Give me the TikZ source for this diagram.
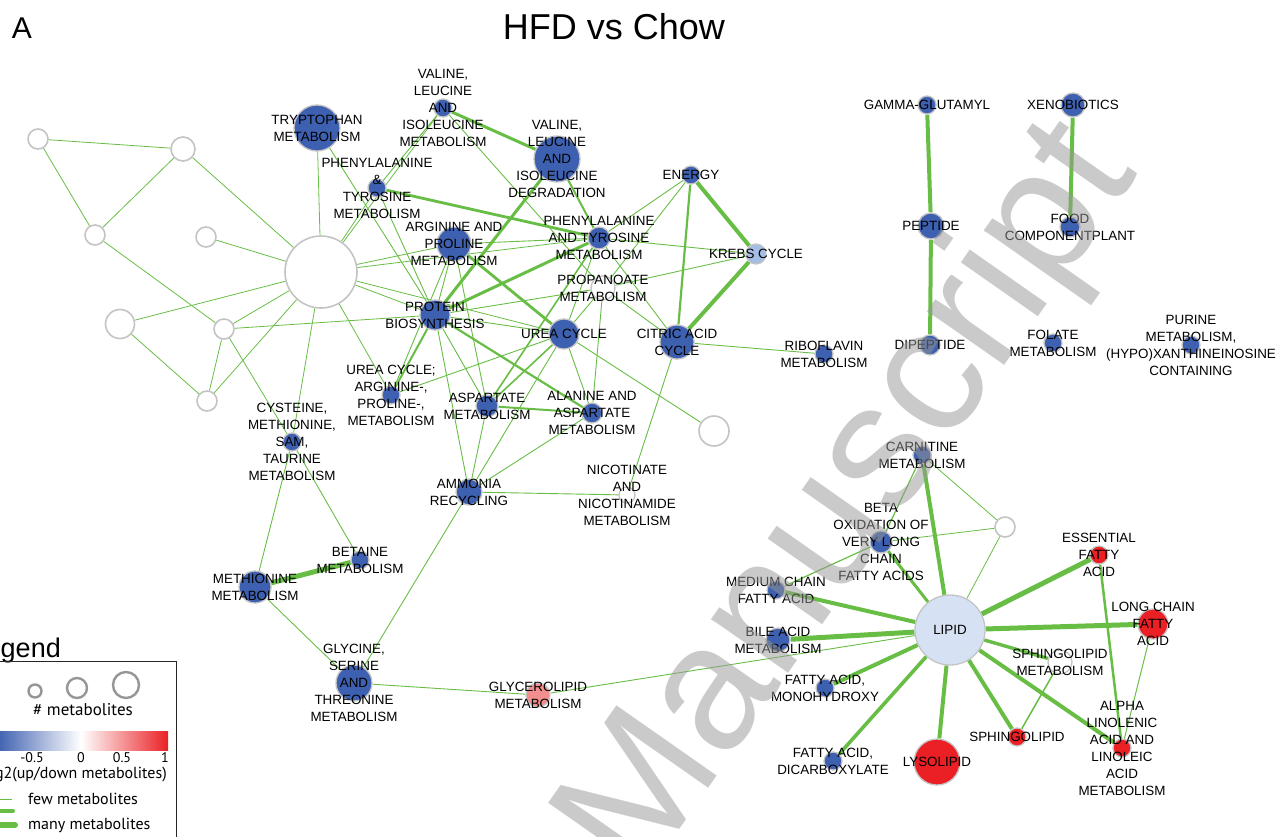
\documentclass[tikz,border=0pt]{standalone}
\usepackage{fontspec}
\setmainfont{Liberation Sans}
\newfontfamily\legfont{PT Sans}
\definecolor{nblue}{RGB}{62,96,176}
\definecolor{nred}{RGB}{234,32,36}
\definecolor{npink}{RGB}{242,142,142}
\definecolor{nlight}{RGB}{214,226,243}
\definecolor{nkrebs}{RGB}{164,189,228}
\definecolor{ngray}{RGB}{196,196,196}
\definecolor{egreen}{RGB}{104,189,69}
\definecolor{wmgray}{RGB}{150,150,150}
\definecolor{leggray}{RGB}{150,150,150}
\pgfdeclarelayer{edges}
\pgfdeclarelayer{labels}
\pgfdeclarelayer{wmark}
\pgfsetlayers{edges,main,labels,wmark}
\newcommand\gnode[4]{\node[gnd=#4] (#1) at (#2,#3) {};}
\newcommand\mnode[6]{\node[nd=#4,fill=#5] (#1) at (#2,#3) {};%
\begin{pgfonlayer}{labels}\node[lbl] (#1-t) at (#2,#3) {#6};\end{pgfonlayer}}
\begin{document}
\begin{tikzpicture}[x=1pt,y=-1pt,
  nd/.style={circle,inner sep=0pt,draw=ngray,line width=1.3pt,minimum size=#1},
  gnd/.style={circle,inner sep=0pt,draw=ngray,line width=1.6pt,fill=white,minimum size=#1},
  lbl/.style={font=\fontsize{13.4}{17}\selectfont,align=center,inner sep=0pt,text=black},
  lk/.style={draw=egreen,line width=#1},
  legtxt/.style={font=\legfont\fontsize{16}{18}\selectfont,inner sep=0pt}]
\useasboundingbox (0,0) rectangle (1277,836);

% title
\node[font=\fontsize{36}{40}\selectfont,inner sep=0pt] (title) at (614,27) {HFD vs Chow};
\node[font=\fontsize{30}{32}\selectfont,inner sep=0pt] (panel) at (22,28) {A};

% gray empty nodes
\gnode{g1}{38}{139}{20}
\gnode{g2}{183}{149}{24}
\gnode{g3}{95}{235}{20}
\gnode{g4}{206}{237}{20}
\gnode{g5}{321}{272}{72}
\gnode{g6}{120}{324}{29}
\gnode{g7}{224}{329}{20}
\gnode{g8}{207}{401}{20}
\gnode{g9}{714}{431}{30}
\gnode{g10}{1005}{527}{20}

% pathway nodes
\mnode{trp}{317}{128}{46}{nblue}{TRYPTOPHAN\\METABOLISM}
\mnode{valm}{443}{108}{18}{nblue}{VALINE,\\LEUCINE\\AND\\ISOLEUCINE\\METABOLISM}
\mnode{vald}{557}{159}{46}{nblue}{VALINE,\\LEUCINE\\AND\\ISOLEUCINE\\DEGRADATION}
\mnode{ptm}{377}{188}{18}{nblue}{PHENYLALANINE\\\&\\TYROSINE\\METABOLISM}
\mnode{argpro}{454}{244}{34}{nblue}{ARGININE AND\\PROLINE\\METABOLISM}
\mnode{pat}{599}{238}{22}{nblue}{PHENYLALANINE\\AND TYROSINE\\METABOLISM}
\mnode{energy}{691}{175}{18}{nblue}{ENERGY}
\mnode{krebs}{756}{254}{20}{nkrebs}{KREBS CYCLE}
\mnode{prop}{603}{288}{24}{white}{PROPANOATE\\METABOLISM}
\mnode{prot}{435}{315}{30}{nblue}{PROTEIN\\BIOSYNTHESIS}
\mnode{urea}{564}{334}{30}{nblue}{UREA CYCLE}
\mnode{citric}{677}{342}{34}{nblue}{CITRIC ACID\\CYCLE}
\mnode{ribo}{824}{354}{18}{nblue}{RIBOFLAVIN\\METABOLISM}
\mnode{ureaarg}{391}{395}{18}{nblue}{UREA CYCLE;\\ARGININE-,\\PROLINE-,\\METABOLISM}
\mnode{asp}{487}{406}{22}{nblue}{ASPARTATE\\METABOLISM}
\mnode{ala}{592}{413}{20}{nblue}{ALANINE AND\\ASPARTATE\\METABOLISM}
\mnode{sam}{292}{442}{18}{nblue}{CYSTEINE,\\METHIONINE,\\SAM,\\TAURINE\\METABOLISM}
\mnode{ammo}{469}{492}{26}{nblue}{AMMONIA\\RECYCLING}
\mnode{nico}{627}{495}{16}{white}{NICOTINATE\\AND\\NICOTINAMIDE\\METABOLISM}
\mnode{betaine}{360}{560}{18}{nblue}{BETAINE\\METABOLISM}
\mnode{meth}{255}{587}{32}{nblue}{METHIONINE\\METABOLISM}
\mnode{gly}{354}{683}{36}{nblue}{GLYCINE,\\SERINE\\AND\\THREONINE\\METABOLISM}
\mnode{glycero}{538}{695}{24}{npink}{GLYCEROLIPID\\METABOLISM}
\mnode{gamma}{927}{105}{18}{nblue}{GAMMA-GLUTAMYL}
\mnode{xeno}{1073}{105}{24}{nblue}{XENOBIOTICS}
\mnode{pep}{931}{226}{26}{nblue}{PEPTIDE}
\mnode{food}{1070}{227}{20}{nblue}{FOOD\\COMPONENTPLANT}
\mnode{dipep}{930}{345}{20}{nblue}{DIPEPTIDE}
\mnode{folate}{1053}{343}{18}{nblue}{FOLATE\\METABOLISM}
\mnode{purine}{1191}{345}{18}{nblue}{PURINE\\METABOLISM,\\(HYPO)XANTHINEINOSINE\\CONTAINING}
\mnode{carn}{922}{455}{18}{nblue}{CARNITINE\\METABOLISM}
\mnode{beta}{881}{542}{22}{nblue}{BETA\\OXIDATION OF\\VERY LONG\\CHAIN\\FATTY ACIDS}
\mnode{med}{776}{590}{18}{nblue}{MEDIUM CHAIN\\FATTY ACID}
\mnode{bile}{778}{640}{24}{nblue}{BILE ACID\\METABOLISM}
\mnode{lipid}{950}{630}{70}{nlight}{LIPID}
\mnode{mono}{825}{688}{18}{nblue}{FATTY ACID,\\MONOHYDROXY}
\mnode{dicarb}{833}{761}{18}{nblue}{FATTY ACID,\\DICARBOXYLATE}
\mnode{lyso}{937}{762}{46}{nred}{LYSOLIPID}
\mnode{sph}{1017}{737}{18}{nred}{SPHINGOLIPID}
\mnode{sphm}{1060}{662}{24}{white}{SPHINGOLIPID\\METABOLISM}
\mnode{ess}{1099}{555}{18}{nred}{ESSENTIAL\\FATTY\\ACID}
\mnode{long}{1153}{624}{30}{nred}{LONG CHAIN\\FATTY\\ACID}
\mnode{alpha}{1122}{748}{18}{nred}{ALPHA\\LINOLENIC\\ACID AND\\LINOLEIC\\ACID\\METABOLISM}

\begin{pgfonlayer}{edges}
% gray cluster
\draw[lk=0.8] (g1) -- (g2);
\draw[lk=0.8] (g1) -- (g3);
\draw[lk=0.8] (g2) -- (g3);
\draw[lk=0.8] (g2) -- (g5);
\draw[lk=0.8] (g3) -- (g7);
\draw[lk=0.8] (g4) -- (g5);
\draw[lk=0.8] (g6) -- (g5);
\draw[lk=0.8] (g6) -- (g8);
\draw[lk=0.8] (g7) -- (g5);
\draw[lk=0.8] (g7) -- (prot);
\draw[lk=0.8] (g7) -- (g8);
\draw[lk=0.8] (g7) -- (sam);
\draw[lk=0.8] (g5) -- (sam);
\draw[lk=0.8] (g5) -- (g8);
\draw[lk=0.8] (g5) -- (ureaarg);
\draw[lk=0.8] (g5) -- (trp);
\draw[lk=0.8] (g5) -- (ptm);
\draw[lk=0.8] (g5) -- (valm);
\draw[lk=0.8] (g5) -- (argpro);
\draw[lk=0.8] (g5) -- (pat);
\draw[lk=0.8] (g5) -- (prot);
\draw[lk=0.8] (g5) -- (urea);
% amino acid cluster
\draw[lk=0.9] (trp) -- (prot);
\draw[lk=0.9] (ptm) -- (valm);
\draw[lk=0.9] (ptm) -- (prot);
\draw[lk=2.8] (ptm) -- (pat);
\draw[lk=3] (valm) -- (vald);
\draw[lk=0.9] (valm) -- (prop);
\draw[lk=3] (vald) -- (prot);
\draw[lk=2] (vald) -- (pat);
\draw[lk=2.8] (argpro) -- (urea);
\draw[lk=0.9] (argpro) -- (prot);
\draw[lk=0.9] (argpro) -- (pat);
\draw[lk=0.9] (argpro) -- (asp);
\draw[lk=0.9] (argpro) -- (ureaarg);
\draw[lk=3] (prot) -- (pat);
\draw[lk=0.9] (prot) -- (prop);
\draw[lk=0.9] (prot) -- (urea);
\draw[lk=2.2] (prot) -- (ala);
\draw[lk=0.9] (prot) -- (ammo);
\draw[lk=2] (prot) -- (ureaarg);
\draw[lk=0.9] (prot) -- (asp);
\draw[lk=0.9] (pat) -- (krebs);
\draw[lk=0.9] (pat) -- (citric);
\draw[lk=0.9] (pat) -- (urea);
\draw[lk=1.6] (pat) -- (asp);
\draw[lk=0.9] (prop) -- (krebs);
\draw[lk=0.9] (prop) -- (citric);
\draw[lk=0.9] (prop) -- (ala);
\draw[lk=0.9] (prop) -- (urea);
\draw[lk=0.9] (energy) -- (pat);
\draw[lk=0.9] (energy) -- (prop);
\draw[lk=2.2] (energy) -- (citric);
\draw[lk=4] (energy) -- (krebs);
\draw[lk=4] (krebs) -- (citric);
\draw[lk=0.9] (citric) -- (ribo);
\draw[lk=0.9] (citric) -- (nico);
\draw[lk=0.9] (urea) -- (ala);
\draw[lk=1.6] (urea) -- (asp);
\draw[lk=0.9] (urea) -- (ureaarg);
\draw[lk=0.9] (urea) -- (ammo);
\draw[lk=0.9] (urea) -- (g9);
\draw[lk=2] (asp) -- (ala);
\draw[lk=0.9] (asp) -- (ammo);
\draw[lk=0.9] (ala) -- (ammo);
\draw[lk=0.9] (ammo) -- (nico);
\draw[lk=0.9] (ammo) -- (gly);
\draw[lk=0.9] (sam) -- (meth);
\draw[lk=0.9] (sam) -- (betaine);
\draw[lk=5] (meth) -- (betaine);
\draw[lk=0.9] (meth) -- (gly);
\draw[lk=0.9] (gly) -- (glycero);
\draw[lk=0.9] (glycero) -- (lipid);
% top right
\draw[lk=4] (gamma) -- (pep);
\draw[lk=4] (pep) -- (dipep);
\draw[lk=4] (xeno) -- (food);
% lipid cluster
\draw[lk=4] (carn) -- (lipid);
\draw[lk=1.2] (carn) -- (beta);
\draw[lk=0.8] (carn) -- (g10);
\draw[lk=0.8] (beta) -- (g10);
\draw[lk=0.8] (g10) -- (lipid);
\draw[lk=3] (beta) -- (lipid);
\draw[lk=1.2] (beta) -- (med);
\draw[lk=4] (med) -- (lipid);
\draw[lk=5] (bile) -- (lipid);
\draw[lk=4] (mono) -- (lipid);
\draw[lk=3.6] (dicarb) -- (lipid);
\draw[lk=4] (lyso) -- (lipid);
\draw[lk=4] (sph) -- (lipid);
\draw[lk=3.4] (sphm) -- (lipid);
\draw[lk=1.5] (sphm) -- (sph);
\draw[lk=4] (alpha) -- (lipid);
\draw[lk=5] (ess) -- (lipid);
\draw[lk=2.5] (ess) -- (alpha);
\draw[lk=5] (long) -- (lipid);
\draw[lk=1] (long) -- (alpha);
\end{pgfonlayer}

% legend
\node[font=\fontsize{27}{30}\selectfont,inner sep=0pt,anchor=base east] (legtitle) at (61,657) {Legend};
\draw[line width=1pt,draw=black!85] (-10,661) -- (176,661) -- (176,850);
\node[circle,draw=leggray,line width=2.4pt,minimum size=13,inner sep=0pt] (lc1) at (35,691) {};
\node[circle,draw=leggray,line width=2.4pt,minimum size=20,inner sep=0pt] (lc2) at (77,688) {};
\node[circle,draw=leggray,line width=2.4pt,minimum size=26,inner sep=0pt] (lc3) at (126,685) {};
\node[legtxt,font=\legfont\fontsize{17}{19}\selectfont] (legnum) at (83,710) {\# metabolites};
\shade[left color=nblue,right color=white] (-3,731) rectangle (81,750);
\shade[left color=white,right color=nred] (81,731) rectangle (168,750);
\node[legtxt,font=\legfont\fontsize{14}{16}\selectfont] (tk1) at (32,758) {-0.5};
\node[legtxt,font=\legfont\fontsize{14}{16}\selectfont] (tk2) at (81,758) {0};
\node[legtxt,font=\legfont\fontsize{14}{16}\selectfont] (tk3) at (122,758) {0.5};
\node[legtxt,font=\legfont\fontsize{14}{16}\selectfont] (tk4) at (165,758) {1};
\node[legtxt,anchor=east] (leglog) at (167,775) {log2(up/down metabolites)};
\coordinate (l1a) at (-5,799); \coordinate (l1b) at (12,799);
\coordinate (l2a) at (-5,811); \coordinate (l2b) at (13,811);
\coordinate (l3a) at (-5,825); \coordinate (l3b) at (15,825);
\draw[lk=1] (l1a) -- (l1b);
\draw[lk=4,line cap=round] (l2a) -- (l2b);
\draw[lk=6,line cap=round] (l3a) -- (l3b);
\node[legtxt,anchor=west] (legfew) at (28,799) {few metabolites};
\node[legtxt,anchor=west] (legmany) at (28,825) {many metabolites};

% watermark
\begin{pgfonlayer}{wmark}
\node[font=\fontsize{178}{178}\selectfont,text=wmgray,text opacity=0.5,rotate=55,anchor=base west,inner sep=0pt] (wm) at (640,886) {Manuscript};
\end{pgfonlayer}
\end{tikzpicture}
\end{document}
